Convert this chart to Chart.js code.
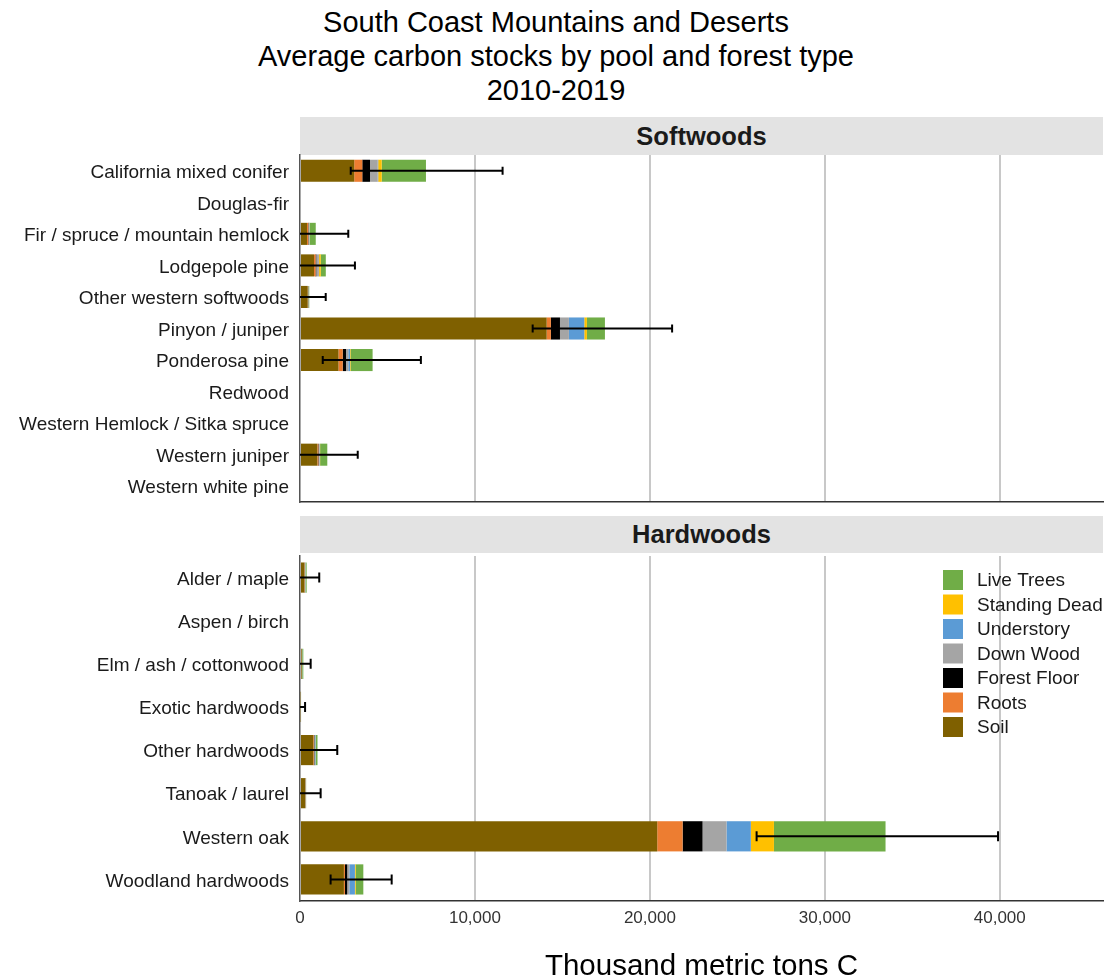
<!DOCTYPE html>
<html>
<head>
<meta charset="utf-8">
<script src="https://cdn.jsdelivr.net/npm/chart.js@4"></script>
<style>
body { margin: 0; background: #fff; font-family: 'Liberation Sans', Arial, sans-serif; }
#wrap { position: relative; width: 1105px; height: 979px; overflow: hidden; }
#title { position: absolute; left: 0; top: 5px; width: 1112px; text-align: center; font-size: 29px; line-height: 34px; color: #000; }
.strip { position: absolute; left: 300px; width: 803px; background: #e3e3e3; text-align: center; font-weight: bold; font-size: 25.5px; color: #1a1a1a; }
canvas { position: absolute; left: 0; }
</style>
</head>
<body>
<div id="wrap">
  <div id="title">South Coast Mountains and Deserts<br>Average carbon stocks by pool and forest type<br>2010-2019</div>
  <div class="strip" style="top:117px;height:38px;line-height:38px;">Softwoods</div>
  <canvas id="soft-chart" width="1105" height="356" style="top:150px"></canvas>
  <div class="strip" style="top:516px;height:37px;line-height:37px;">Hardwoods</div>
  <canvas id="hard-chart" width="1105" height="437" style="top:548px"></canvas>
</div>
<script>
// Pools, stacked left to right
const pools = ['Soil', 'Roots', 'Forest Floor', 'Down Wood', 'Understory', 'Standing Dead', 'Live Trees'];
const poolColors = ['#7f6000', '#ed7d31', '#000000', '#a5a5a5', '#5b9bd5', '#ffc000', '#70ad47'];

// Softwoods (thousand metric tons C)
const softLabels = ['California mixed conifer', 'Douglas-fir', 'Fir / spruce / mountain hemlock', 'Lodgepole pine',
    'Other western softwoods', 'Pinyon / juniper', 'Ponderosa pine', 'Redwood', 'Western Hemlock / Sitka spruce',
    'Western juniper', 'Western white pine'];
const softSoil         = [3100, null, 400, 800, 440, 14100, 2200, null, null, 990, null];
const softRoots        = [460, null, 70, 90, 20, 240, 240, null, null, 60, null];
const softForestFloor  = [440, null, 20, 40, 10, 520, 190, null, null, 30, null];
const softDownWood     = [440, null, 30, 150, 10, 510, 130, null, null, 30, null];
const softUnderstory   = [30, null, 20, 10, 10, 880, 100, null, null, 20, null];
const softStandingDead = [200, null, 20, 95, 10, 150, 30, null, null, 20, null];
const softLiveTrees    = [2530, null, 340, 290, 30, 1030, 1260, null, null, 410, null];
// error bar ends (lower, upper)
const softErrLow       = [2900, null, -960, -200, -410, 13300, 1300, null, null, -180, null];
const softErrHigh      = [11580, null, 2760, 3140, 1470, 21270, 6910, null, null, 3300, null];

// Hardwoods (thousand metric tons C)
const hardLabels = ['Alder / maple', 'Aspen / birch', 'Elm / ash / cottonwood', 'Exotic hardwoods',
    'Other hardwoods', 'Tanoak / laurel', 'Western oak', 'Woodland hardwoods'];
const hardSoil         = [250, null, 95, 40, 760, 290, 20420, 2510];
const hardRoots        = [20, null, 10, 5, 40, 15, 1450, 60];
const hardForestFloor  = [10, null, 5, 3, 20, 10, 1140, 130];
const hardDownWood     = [10, null, 5, 2, 30, 5, 1370, 120];
const hardUnderstory   = [20, null, 10, 5, 40, 10, 1390, 320];
const hardStandingDead = [10, null, 5, 2, 20, 5, 1320, 40];
const hardLiveTrees    = [60, null, 60, 3, 90, 15, 6380, 440];
const hardErrLow       = [-340, null, -230, -170, -130, -480, 26100, 1750];
const hardErrHigh      = [1100, null, 610, 290, 2130, 1180, 39900, 5240];

// x axis
const xMax = 45900;
const xTicks = [0, 10000, 20000, 30000, 40000];

Chart.defaults.font.family = "'Liberation Sans', Arial, sans-serif";

// errorBars draws the whiskers over the stacked bars
const errorBars = {
    id: 'errorBars',
    afterDatasetsDraw(chart, args, opts) {
        const ctx = chart.ctx;
        const xs = chart.scales.x, ys = chart.scales.y;
        ctx.save();
        ctx.strokeStyle = '#000';
        ctx.lineWidth = 2;
        opts.low.forEach((lo, i) => {
            const hi = opts.high[i];
            if (lo == null || hi == null) return;
            const y = ys.getPixelForValue(i);
            const x1 = xs.getPixelForValue(Math.max(0, lo));
            const x2 = xs.getPixelForValue(hi);
            ctx.beginPath();
            ctx.moveTo(x1, y); ctx.lineTo(x2, y);
            ctx.moveTo(x2, y - opts.cap); ctx.lineTo(x2, y + opts.cap);
            if (lo > 0) { ctx.moveTo(x1, y - opts.cap); ctx.lineTo(x1, y + opts.cap); }
            ctx.stroke();
        });
        ctx.restore();
    }
};

// boxLegend draws the pool legend inside the plot area
const boxLegend = {
    id: 'boxLegend',
    afterDraw(chart, args, opts) {
        if (!opts.show) return;
        const ctx = chart.ctx;
        ctx.save();
        ctx.font = '19px ' + Chart.defaults.font.family;
        ctx.textBaseline = 'middle';
        const items = chart.data.datasets.slice().reverse();
        items.forEach((ds, k) => {
            const y = opts.y + k * 24.5;
            ctx.fillStyle = ds.backgroundColor;
            ctx.fillRect(opts.x, y - 10, 20, 20);
            ctx.fillStyle = '#1a1a1a';
            ctx.fillText(ds.label, opts.x + 34, y + 1);
        });
        ctx.restore();
    }
};

function makeDatasets(series) {
    return pools.map((p, k) => ({
        label: p,
        data: series[k],
        backgroundColor: poolColors[k],
        borderWidth: 0,
        barPercentage: 0.7,
        categoryPercentage: 1.0
    }));
}

function createPanel(targetID, labels, series, errLow, errHigh, showAxis) {
    const ctx = document.getElementById(targetID).getContext('2d');
    return new Chart(ctx, {
        type: 'bar',
        data: { labels: labels, datasets: makeDatasets(series) },
        plugins: [errorBars, boxLegend],
        options: {
            indexAxis: 'y',
            responsive: false,
            animation: false,
            devicePixelRatio: 1,
            layout: { padding: { top: showAxis ? 8 : 5, right: 2, left: 0, bottom: 0 } },
            plugins: {
                legend: { display: false },
                tooltip: { enabled: false },
                errorBars: { low: errLow, high: errHigh, cap: showAxis ? 5 : 4 },
                boxLegend: { show: showAxis, x: 943, y: 580 - 548 }
            },
            scales: {
                x: {
                    stacked: true,
                    min: 0,
                    max: xMax,
                    afterBuildTicks: s => { s.ticks = xTicks.map(v => ({ value: v })); },
                    afterFit: s => { s.height = showAxis ? 84 : 4; s.paddingLeft = 0; s.paddingRight = 0; },
                    ticks: {
                        display: showAxis,
                        autoSkip: false,
                        maxRotation: 0,
                        color: '#333',
                        padding: 7,
                        font: { size: 17 },
                        callback: v => Number(v).toLocaleString('en-US')
                    },
                    grid: {
                        drawTicks: false,
                        lineWidth: 2,
                        color: c => (c.tick && c.tick.value === 0) ? 'rgba(0,0,0,0)' : '#c8c8c8'
                    },
                    border: { display: true, color: '#333', width: 1.5 },
                    title: {
                        display: showAxis,
                        text: 'Thousand metric tons C',
                        color: '#000',
                        font: { size: 29.5 },
                        padding: { top: 0, bottom: 0 }
                    }
                },
                y: {
                    stacked: true,
                    afterFit: s => { s.width = 300; s.paddingTop = 0; s.paddingBottom = 0; },
                    ticks: { color: '#1a1a1a', padding: 11, labelOffset: 2, font: { size: 19 } },
                    grid: { display: false, drawTicks: false },
                    border: { display: true, color: '#555', width: 1.5 }
                }
            }
        }
    });
}

createPanel('soft-chart', softLabels,
    [softSoil, softRoots, softForestFloor, softDownWood, softUnderstory, softStandingDead, softLiveTrees],
    softErrLow, softErrHigh, false);
createPanel('hard-chart', hardLabels,
    [hardSoil, hardRoots, hardForestFloor, hardDownWood, hardUnderstory, hardStandingDead, hardLiveTrees],
    hardErrLow, hardErrHigh, true);
</script>
</body>
</html>
